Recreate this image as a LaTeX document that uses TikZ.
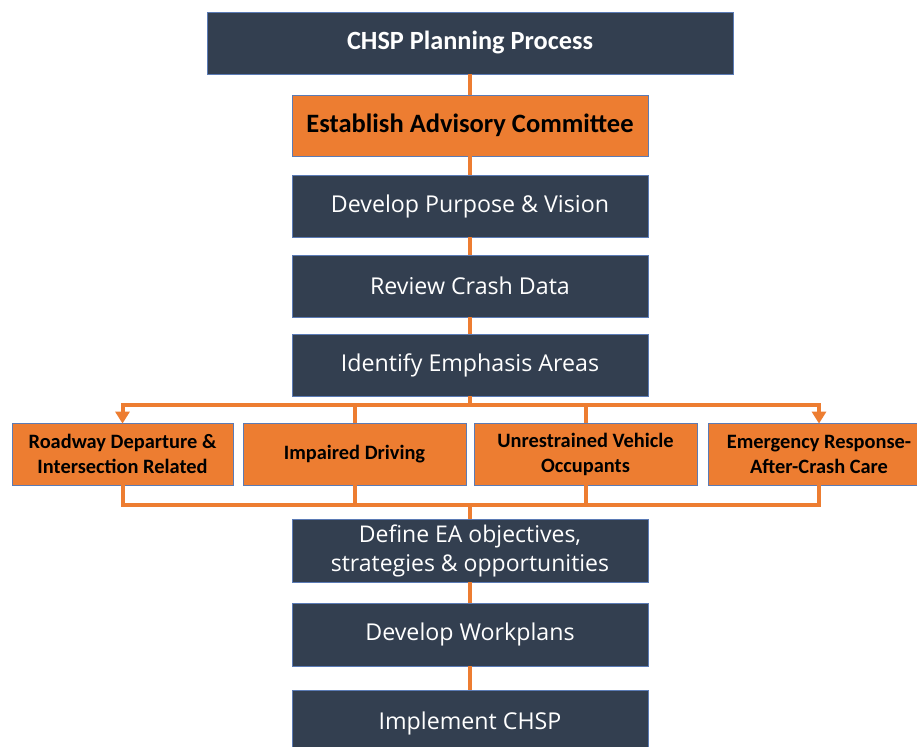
\documentclass[tikz,border=0pt]{standalone}
\usepackage{fontspec}
\setmainfont{Carlito}
\newfontfamily\opensans{Open Sans}
\usetikzlibrary{arrows.meta}
\definecolor{darkbox}{HTML}{333F50}
\definecolor{orangebox}{HTML}{ED7D31}
\definecolor{edgeblue}{HTML}{5B7BB5}
\tikzset{
  x=1pt, y=-1pt,
  darkstep/.style={draw=edgeblue, line width=0.8pt, fill=darkbox, text=white, minimum width=356pt, minimum height=62pt, inner sep=2pt, align=center, font=\opensans\fontsize{23.2}{29}\selectfont},
  titlebox/.style={darkstep, minimum width=526pt, font=\bfseries\fontsize{26.3}{30}\selectfont},
  orangestep/.style={draw=edgeblue, line width=0.8pt, fill=orangebox, text=black, minimum width=356pt, minimum height=61pt, align=center, font=\bfseries\fontsize{26.5}{30}\selectfont},
  eabox/.style={draw=edgeblue, line width=0.8pt, fill=orangebox, text=black, minimum height=62pt, inner sep=1pt, align=center, font=\bfseries\fontsize{20.4}{25}\selectfont},
  conn/.style={draw=orangebox, line width=4pt},
  arr/.style={conn, -{Triangle[width=14pt,length=12pt]}, shorten >=-1pt}
}
\begin{document}
\begin{tikzpicture}
\useasboundingbox (0,0) rectangle (917,746);
\clip (0,0) rectangle (917,746);
\fill[white] (0,0) rectangle (917,746);
\node[titlebox] (title) at (470,43) {CHSP Planning Process};
\node[orangestep] (est) at (470,125.5) {Establish Advisory Committee};
\node[darkstep] (purp) at (470,206) {Develop Purpose \& Vision};
\node[darkstep] (crash) at (470,286) {Review Crash Data};
\node[darkstep] (ident) at (470,365) {Identify Emphasis Areas};
\node[eabox, minimum width=221pt] (ea1) at (122.5,454) {Roadway Departure \&\\Intersection Related};
\node[eabox, minimum width=223pt] (ea2) at (354.5,454) {Impaired Driving};
\node[eabox, minimum width=223pt] (ea3) at (585.5,454) {Unrestrained Vehicle\\Occupants};
\node[eabox, minimum width=222pt] (ea4) at (819,454) {Emergency Response-\\After-Crash Care};
\node[darkstep, minimum height=63pt, font=\opensans\fontsize{23}{29}\selectfont] (def) at (470,550.5) {Define EA objectives,\\strategies \& opportunities};
\node[darkstep, minimum height=63pt] (work) at (470,634.5) {Develop Workplans};
\node[darkstep, minimum height=66pt] (impl) at (470,723) {Implement CHSP};
\coordinate (split) at (470,405);
\coordinate (join) at (470,505);
\draw[conn] (title) -- (est);
\draw[conn] (est) -- (purp);
\draw[conn] (purp) -- (crash);
\draw[conn] (crash) -- (ident);
\draw[conn] (ident) -- (split);
\draw[arr] (split) -| (ea1.north);
\draw[arr] (split) -| (ea4.north);
\draw[conn] (split) -| (ea2.north);
\draw[conn] (split) -| (ea3.north);
\draw[conn] (ea1.south) |- (join);
\draw[conn] (ea2.south) |- (join);
\draw[conn] (ea3.south) |- (join);
\draw[conn] (ea4.south) |- (join);
\draw[conn] (join) -- (def);
\draw[conn] (def) -- (work);
\draw[conn] (work) -- (impl);
\end{tikzpicture}
\end{document}
